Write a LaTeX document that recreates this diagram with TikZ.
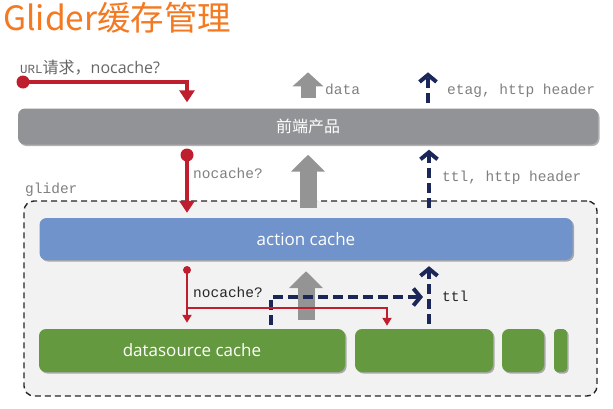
\documentclass[tikz,border=0pt]{standalone}
\usepackage{fontspec}
\newfontfamily\cjk{Noto Sans CJK SC}
\newfontfamily\osans{Open Sans}
\newfontfamily\mono{Liberation Mono}
\usetikzlibrary{arrows.meta,shadows,calc}
\definecolor{grayBar}{HTML}{929396}
\definecolor{blueBar}{HTML}{7093CB}
\definecolor{greenBox}{HTML}{64993F}
\definecolor{redC}{HTML}{BE1E2D}
\definecolor{navyC}{HTML}{1C2759}
\definecolor{arrowGray}{HTML}{949494}
\definecolor{labelGray}{HTML}{808080}
\definecolor{bgG}{HTML}{F2F2F2}
\definecolor{orangeT}{HTML}{F47920}
\begin{document}
\begin{tikzpicture}[x=1pt,y=-1pt,
  bar/.style={rectangle, rounded corners=7pt, inner sep=0pt, text=white,
    drop shadow={shadow xshift=1.5pt, shadow yshift=-1.5pt, opacity=.3, fill=black}},
  lbl/.style={inner sep=0pt, anchor=west, font=\mono\fontsize{14.5}{16}\selectfont, text=labelGray},
  dlbl/.style={lbl, text=black!85},
  redthick/.style={draw=redC, line width=4pt, -{Triangle[width=15pt,length=12pt]}},
  redthin/.style={draw=redC, line width=2.2pt, -{Triangle[width=9pt,length=8pt]}},
  garrow/.style={draw=arrowGray, line width=17pt, -{Triangle[width=33pt,length=17pt]}},
  garrowsmall/.style={draw=arrowGray, line width=15pt, -{Triangle[width=30pt,length=14pt]}},
  narrow/.style={draw=navyC, line width=4pt, dash pattern=on 10pt off 5pt, -{Straight Barb[length=7pt,width=17pt]}},
]
\useasboundingbox (0,0) rectangle (613,408);
\fill[white] (0,0) rectangle (613,408);

% title
\node[inner sep=0pt, anchor=west, text=orangeT, font=\cjk\fontsize{33.5}{36}\selectfont] (title) at (3,18) {Glider缓存管理};

% glider container
\node[draw=black!85, fill=bgG, line width=1.4pt, dash pattern=on 6pt off 4pt, rounded corners=10pt,
  minimum width=573pt, minimum height=195pt, inner sep=0pt] (glider) at (310.5,298.5) {};
\node[lbl] (gliderlbl) at (25,190) {glider};

% bars
\node[bar, fill=grayBar, minimum width=580pt, minimum height=36pt, font=\cjk\fontsize{16}{18}\selectfont] (front) at (308,126.5) {前端产品};
\node[bar, fill=blueBar, minimum width=533pt, minimum height=42pt, font=\osans\fontsize{17}{19}\selectfont] (action) at (306,239) {action cache};
\node[bar, fill=greenBox, minimum width=306pt, minimum height=43pt, font=\osans\fontsize{17}{19}\selectfont] (ds) at (192,350.5) {datasource cache};
\node[bar, fill=greenBox, minimum width=138pt, minimum height=43pt] (g2) at (424,350.5) {};
\node[bar, fill=greenBox, minimum width=42pt, minimum height=43pt] (g3) at (523,350.5) {};
\node[bar, fill=greenBox, minimum width=13pt, minimum height=43pt, rounded corners=4pt] (g4) at (560.5,350.5) {};

% labels
\node[inner sep=0pt, anchor=west, text=black!60] (urllbl) at (20,68)
  {{\mono\fontsize{12.5}{14}\selectfont URL}{\cjk\fontsize{16}{18}\selectfont 请求，}{\osans\fontsize{16}{18}\selectfont nocache?}};
\node[lbl] (datalbl) at (325,89) {data};
\node[lbl] (etaglbl) at (447,91) {etag, http header};
\node[lbl] (ttllbl1) at (442,178) {ttl, http header};
\node[lbl] (nc1) at (193,173) {nocache?};
\node[dlbl] (nc2) at (193,292) {nocache?};
\node[dlbl] (ttllbl2) at (442,296) {ttl};

% helper coordinates
\coordinate (r1) at (23,82);
\coordinate (x187) at (187,0);
\coordinate (r2) at (187,155);
\coordinate (r3) at (187,270);
\coordinate (r3b) at (187,308);
\coordinate (x387) at (387,0);
\coordinate (x308) at (308,0);
\coordinate (x306) at (306,0);
\coordinate (x428) at (428,0);
\coordinate (x429) at (429,0);
\coordinate (n3) at (271,297);

% gray block arrows
\draw[garrowsmall] ($(front.north -| x308)+(0,-10)$) -- ($(front.north -| x308)+(0,-36)$);
\draw[garrow] ($(action.north -| x308)+(0,-10)$) -- ($(front.south -| x308)+(0,10)$);
\draw[garrow] ($(ds.north -| x306)+(0,-9)$) -- ($(action.south -| x306)+(0,11)$);

% navy dashed arrows
\draw[narrow] ($(front.north -| x428)+(0,-5)$) -- ($(front.north -| x428)+(0,-36)$);
\draw[narrow] ($(action.north -| x429)+(0,-10)$) -- ($(front.south -| x429)+(0,5)$);
\draw[narrow] ($(g2.north -| x429)+(0,-5)$) -- ($(action.south -| x429)+(0,6)$);
\draw[narrow] ($(ds.north -| n3)+(0,-4)$) -- (n3) -- ($(n3 -| x429)+(-6,0)$);

% red arrows
\fill[redC] (r1) circle (6.5pt);
\draw[redthick, shorten >=6pt] (r1) -| (front.north -| x187);
\fill[redC] (r2) circle (6.5pt);
\draw[redthick, shorten >=5pt] (r2) -- (action.north -| r2);
\fill[redC] (r3) circle (4pt);
\draw[redthin, shorten >=6pt] (r3) -- (ds.north -| r3);
\draw[redthin, shorten >=3pt] (r3b) -- (r3b -| x387) -- (g2.north -| x387);
\end{tikzpicture}
\end{document}
